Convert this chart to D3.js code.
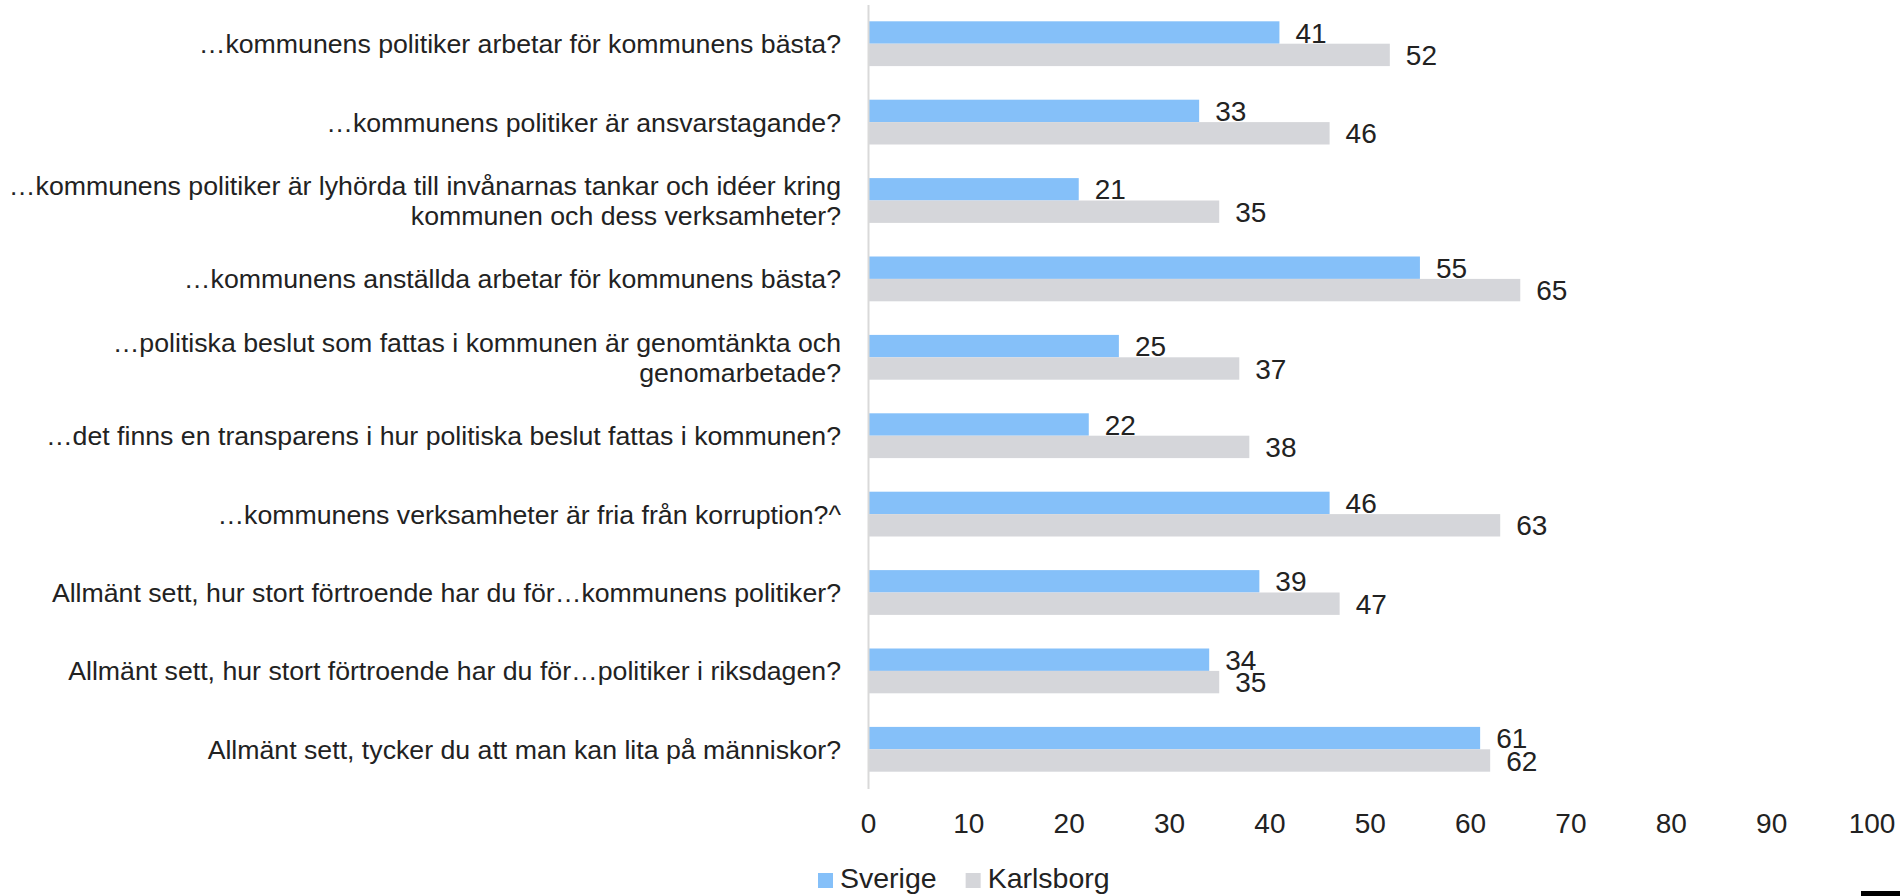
<!DOCTYPE html>
<html>
<head>
<meta charset="utf-8">
<script src="https://cdn.jsdelivr.net/npm/d3@7"></script>
<style>
  body { margin: 0; background: #fff; }
  text { font-family: "Liberation Sans", Arial, sans-serif; fill: #222; }
</style>
</head>
<body>
<svg id="chart"></svg>
<script>
const width = 1900, height = 896;

// questions (line breaks as in the original labels)
const categories = [
  "…kommunens politiker arbetar för kommunens bästa?",
  "…kommunens politiker är ansvarstagande?",
  "…kommunens politiker är lyhörda till invånarnas tankar och idéer kring\nkommunen och dess verksamheter?",
  "…kommunens anställda arbetar för kommunens bästa?",
  "…politiska beslut som fattas i kommunen är genomtänkta och\ngenomarbetade?",
  "…det finns en transparens i hur politiska beslut fattas i kommunen?",
  "…kommunens verksamheter är fria från korruption?^",
  "Allmänt sett, hur stort förtroende har du för…kommunens politiker?",
  "Allmänt sett, hur stort förtroende har du för…politiker i riksdagen?",
  "Allmänt sett, tycker du att man kan lita på människor?"
];
const sverige   = [41, 33, 21, 55, 25, 22, 46, 39, 34, 61];
const karlsborg = [52, 46, 35, 65, 37, 38, 63, 47, 35, 62];
const seriesNames = ["Sverige", "Karlsborg"];
const xTicks = [0, 10, 20, 30, 40, 50, 60, 70, 80, 90, 100];

const svg = d3.select("#chart")
  .attr("width", width)
  .attr("height", height);

const color = d3.scaleOrdinal(seriesNames, ["#85c0f9", "#d5d6da"]);

// scales
const x = d3.scaleLinear()
  .domain([0, 100])
  .range([868, 1871.5]);

const y = d3.scaleBand()
  .domain(categories)
  .range([4.5, 788.5])
  .paddingInner(0.4286)
  .paddingOuter(0.2143);

const ySub = d3.scaleBand()
  .domain(seriesNames)
  .range([0, y.bandwidth()]);

// rows of data
const rows = categories.map((c, i) => ({
  cat: c,
  values: [
    { key: "Sverige", value: sverige[i] },
    { key: "Karlsborg", value: karlsborg[i] }
  ]
}));

// bars
const groups = svg.append("g").selectAll("g")
  .data(rows)
  .join("g")
  .attr("transform", d => `translate(0,${y(d.cat)})`);

groups.selectAll("rect")
  .data(d => d.values)
  .join("rect")
  .attr("x", x(0))
  .attr("y", d => ySub(d.key))
  .attr("width", d => x(d.value) - x(0))
  .attr("height", ySub.bandwidth())
  .attr("fill", d => color(d.key));

// value labels
groups.selectAll("text")
  .data(d => d.values)
  .join("text")
  .attr("x", d => x(d.value) + 16)
  .attr("y", d => ySub(d.key) + ySub.bandwidth() / 2)
  .attr("dy", "0.36em")
  .style("font-size", "28px")
  .text(d => d.value);

// vertical category axis
const yAxis = svg.append("g")
  .attr("transform", `translate(${x(0)},0)`)
  .call(d3.axisLeft(y).tickSize(0).tickSizeOuter(0).tickPadding(27));

yAxis.select(".domain")
  .attr("stroke", "#d9d9d9")
  .attr("stroke-width", 2);

yAxis.selectAll(".tick text")
  .style("font-size", "26.7px")
  .attr("font-family", null)
  .attr("dy", null)
  .each(function(d) {
    const lines = d.split("\n");
    const el = d3.select(this).text(null);
    lines.forEach((line, i) => {
      el.append("tspan")
        .attr("x", -27)
        .attr("y", 9.4 - (lines.length - 1) * 15 + i * 30)
        .text(line);
    });
  });

// bottom value axis (labels only)
const xAxis = svg.append("g")
  .attr("transform", `translate(0,788.5)`)
  .call(d3.axisBottom(x).tickValues(xTicks).tickSize(0).tickPadding(24.6));

xAxis.select(".domain").remove();
xAxis.selectAll(".tick text")
  .attr("font-family", null)
  .style("font-size", "28px");

// legend
const legend = svg.append("g").attr("transform", "translate(818,873)");
let lx = 0;
seriesNames.forEach(name => {
  legend.append("rect")
    .attr("x", lx)
    .attr("y", 0)
    .attr("width", 15)
    .attr("height", 15)
    .attr("fill", color(name));
  const t = legend.append("text")
    .attr("x", lx + 22)
    .attr("y", 15)
    .style("font-size", "28.5px")
    .text(name);
  lx += 22 + t.node().getComputedTextLength() + 29;
});

// small black mark in the bottom-right corner of the original
svg.append("rect")
  .attr("x", 1861)
  .attr("y", 891)
  .attr("width", 39)
  .attr("height", 5)
  .attr("fill", "#000");
</script>
</body>
</html>
